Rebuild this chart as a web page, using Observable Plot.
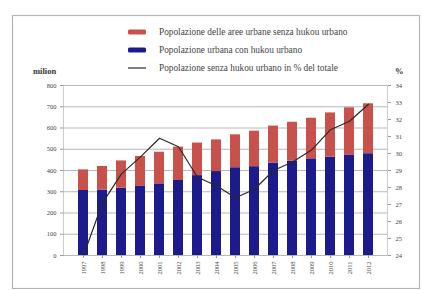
<!DOCTYPE html>
<html>
<head>
<meta charset="utf-8">
<script src="https://cdn.jsdelivr.net/npm/d3@7"></script>
<script src="https://cdn.jsdelivr.net/npm/@observablehq/plot@0.6"></script>
<style>
  html, body { margin: 0; padding: 0; background: #fff; }
  #chart { width: 422px; height: 290px; }
</style>
</head>
<body>
<div id="chart"></div>
<script>
const years = ["1997","1998","1999","2000","2001","2002","2003","2004","2005","2006","2007","2008","2009","2010","2011","2012"];
const urbanWithHukou = [306, 308, 317, 325, 337, 353, 376, 395, 413, 418, 435, 444, 455, 463, 471, 479];
const urbanTotal = [403, 419, 445, 466, 486, 510, 529, 544, 568, 585, 609, 627, 646, 671, 695, 714];
const shareWithoutHukou = [24.0, 27.1, 28.8, 29.8, 30.9, 30.4, 28.6, 28.1, 27.4, 27.9, 29.0, 29.5, 30.2, 31.4, 31.9, 32.9];
const leftTicks = [0, 100, 200, 300, 400, 500, 600, 700, 800];
const rightTicks = [24, 25, 26, 27, 28, 29, 30, 31, 32, 33, 34];
const legendLabels = [
  "Popolazione delle aree urbane senza hukou urbano",
  "Popolazione urbana con hukou urbano",
  "Popolazione senza hukou urbano in % del totale"
];
const RED = "#c9514c", BLUE = "#1b1b8c", LINE = "#2a2a2a";

const pctToLeft = p => (p - 24) / 10 * 800;
const rows = years.map((y, i) => ({
  year: y, blue: urbanWithHukou[i], total: urbanTotal[i], pct: shareWithoutHukou[i], pctY: pctToLeft(shareWithoutHukou[i])
}));

const font = "Liberation Serif, Times New Roman, serif";
const plot = Plot.plot({
  width: 422,
  height: 290,
  marginLeft: 63,
  marginRight: 35,
  marginTop: 85,
  marginBottom: 35,
  style: { fontFamily: font, fontSize: "6.5px", color: "#333", background: "#fff" },
  x: { domain: years, padding: 0.48, label: null },
  y: { domain: [0, 800], label: null },
  marks: [
    Plot.ruleY(leftTicks, { stroke: "#9a9a9a", strokeWidth: 0.7 }),
    Plot.barY(rows, { x: "year", y1: 0, y2: "blue", fill: BLUE }),
    Plot.barY(rows, { x: "year", y1: "blue", y2: "total", fill: RED }),
    Plot.line(rows, { x: "year", y: "pctY", stroke: LINE, strokeWidth: 1.2 }),
    Plot.axisY({ ticks: leftTicks, anchor: "left", tickSize: 3, tickPadding: 4, fill: "#444", stroke: "#999" }),
    Plot.axisY({ ticks: rightTicks.map(pctToLeft), anchor: "right", tickFormat: v => String(Math.round(v / 80 + 24)), tickSize: 3, tickPadding: 5, fill: "#444", stroke: "#999" }),
    Plot.axisX({ tickRotate: -90, tickSize: 3, tickPadding: 3, fill: "#444", stroke: "#999" }),
    Plot.frame({ stroke: "#aaa", strokeWidth: 0.6, anchor: "left" }),
    Plot.frame({ stroke: "#aaa", strokeWidth: 0.6, anchor: "right" })
  ]
});
document.getElementById("chart").appendChild(plot);

// Decorations: outer box, unit labels, legend
const svg = d3.select(plot);
svg.insert("rect", ":first-child")
  .attr("x", 12.5).attr("y", 15.5).attr("width", 407).attr("height", 273)
  .attr("fill", "none").attr("stroke", "#b5b5b5").attr("stroke-width", 1.2);
svg.append("text").attr("x", 33).attr("y", 74).attr("font-family", font).attr("text-anchor", "start")
  .attr("font-size", 8.5).attr("font-weight", "bold").attr("fill", "#333").text("milion");
svg.append("text").attr("x", 395).attr("y", 74).attr("font-family", font).attr("text-anchor", "start")
  .attr("font-size", 8.5).attr("font-weight", "bold").attr("fill", "#333").text("%");

const lg = svg.append("g");
const legendY = [32, 50, 68];
legendLabels.forEach((t, i) => {
  if (i < 2) {
    lg.append("rect").attr("x", 128).attr("y", legendY[i] - 2.5).attr("width", 18).attr("height", 5)
      .attr("rx", 1.5).attr("fill", i === 0 ? RED : BLUE);
  } else {
    lg.append("line").attr("x1", 128).attr("x2", 146).attr("y1", legendY[i]).attr("y2", legendY[i])
      .attr("stroke", LINE).attr("stroke-width", 1.2);
  }
  lg.append("text").attr("x", 159).attr("y", legendY[i] + 3).attr("font-family", font).attr("text-anchor", "start")
    .attr("font-size", 9.3).attr("fill", "#444").text(t);
});
</script>
</body>
</html>
